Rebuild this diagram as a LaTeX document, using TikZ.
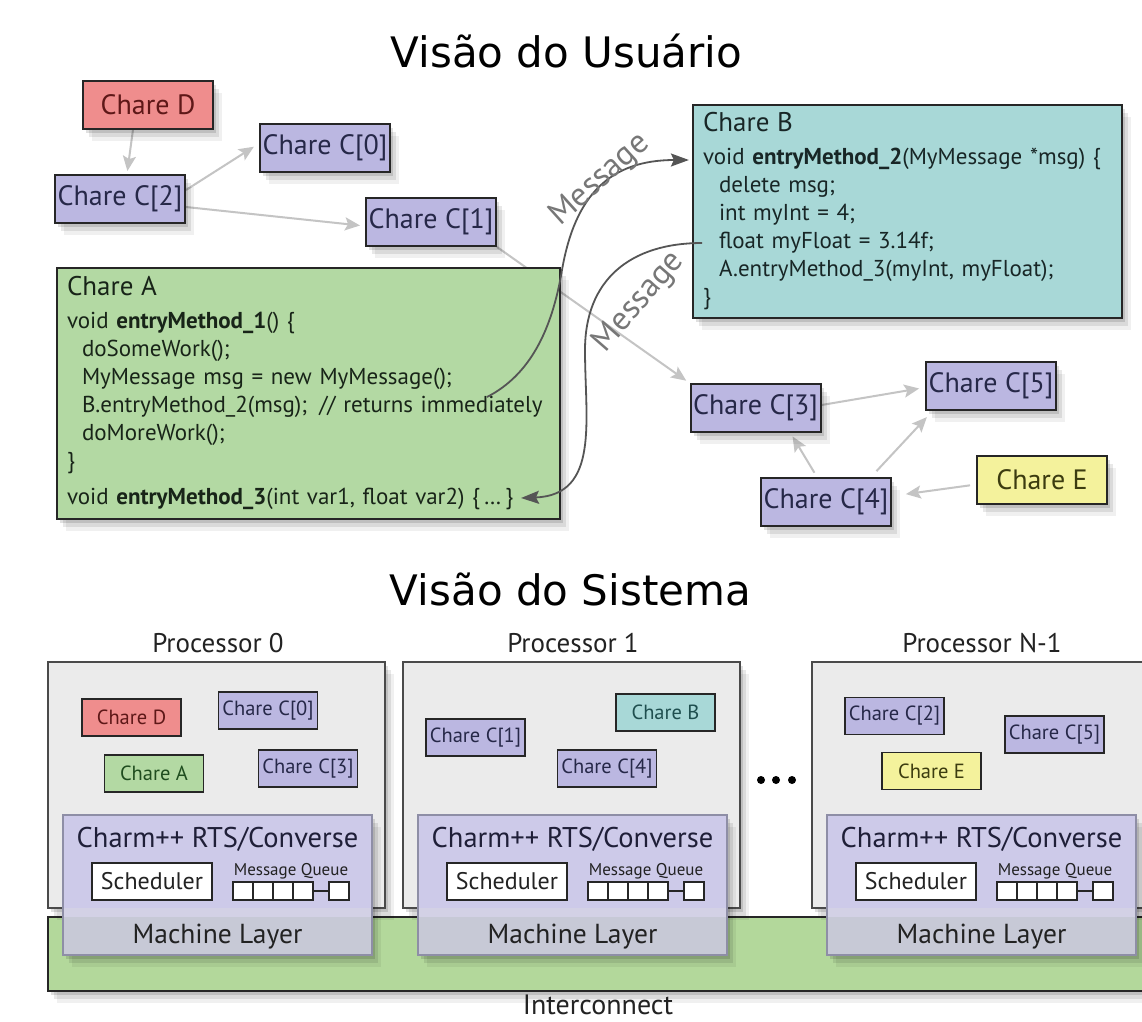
\documentclass[tikz,border=0pt]{standalone}
\usepackage{fontspec}
\setmainfont{PT Sans}
\newfontfamily\titlefont{DejaVu Sans}
\usetikzlibrary{arrows.meta,shadows}
\pgfdeclarelayer{back}
\pgfdeclarelayer{bg}
\pgfsetlayers{back,bg,main}
\definecolor{edge}{HTML}{262626}
\definecolor{redfill}{HTML}{EF8D8D}
\definecolor{redtext}{HTML}{5E1818}
\definecolor{purfill}{HTML}{BBB7E1}
\definecolor{purtext}{HTML}{262848}
\definecolor{greenfill}{HTML}{B3D9A3}
\definecolor{greentext}{HTML}{182418}
\definecolor{greentext2}{HTML}{1F4D1F}
\definecolor{tealfill}{HTML}{A8D8D7}
\definecolor{tealtext}{HTML}{182626}
\definecolor{tealtext2}{HTML}{1F4F4F}
\definecolor{yelfill}{HTML}{F4F29C}
\definecolor{yeltext}{HTML}{3C3C10}
\definecolor{procfill}{HTML}{EBEBEB}
\definecolor{procedge}{HTML}{4A4A4A}
\definecolor{rtsfill}{HTML}{CDCAE9}
\definecolor{rtsedge}{HTML}{8E8EA6}
\definecolor{mlband}{HTML}{D3D1E5}
\definecolor{mlfill}{HTML}{C7C9D6}
\definecolor{interfill}{HTML}{B3D89B}
\definecolor{conncol}{HTML}{C4C4C4}
\definecolor{msgcol}{HTML}{555555}
\definecolor{msgtext}{HTML}{777777}
\definecolor{darktext}{HTML}{222222}
\tikzset{
  softshadow/.style={
    drop shadow={shadow xshift=3pt, shadow yshift=-4pt, opacity=0.12, fill=black},
    drop shadow={shadow xshift=6pt, shadow yshift=-8pt, opacity=0.09, fill=black},
    drop shadow={shadow xshift=9pt, shadow yshift=-12pt, opacity=0.06, fill=black}},
  chbox/.style={draw=edge, line width=2pt, inner sep=0pt, minimum width=130pt, minimum height=48pt,
    font=\fontsize{28}{30}\selectfont, softshadow},
  codebox/.style={draw=edge, line width=2.2pt, inner xsep=10pt, inner ysep=0pt, align=left,
    font=\fontsize{23}{28}\selectfont, softshadow},
  smallch/.style={draw=edge, line width=1.6pt, inner sep=0pt, minimum width=99pt, minimum height=37pt,
    font=\fontsize{20.5}{22}\selectfont},
  procbox/.style={draw=procedge, line width=2pt, fill=procfill, minimum width=337pt, minimum height=246pt,
    inner sep=0pt, softshadow},
  rtsbox/.style={draw=rtsedge, line width=1.5pt, fill=rtsfill, minimum width=309pt, minimum height=140pt,
    inner sep=0pt, softshadow},
  interbox/.style={draw=edge, line width=2pt, fill=interfill, minimum width=1112pt, minimum height=74pt,
    inner sep=0pt, softshadow},
  schedbox/.style={draw=edge, line width=1.6pt, fill=white, minimum width=120pt, minimum height=37pt,
    inner sep=0pt, font=\fontsize{24}{26}\selectfont, text=darktext},
  qcell/.style={draw=edge, line width=1.4pt, fill=white, minimum width=20pt, minimum height=18pt, inner sep=0pt},
  titletext/.style={font=\titlefont\fontsize{42}{46}\selectfont, text=black, inner sep=0pt},
  lbl/.style={font=\fontsize{27}{30}\selectfont, text=darktext, inner sep=0pt},
  rtslbl/.style={font=\fontsize{28.5}{30}\selectfont, text=darktext!90!blue, inner sep=0pt},
  mqlbl/.style={font=\fontsize{17}{18}\selectfont, text=darktext, inner sep=0pt},
  msglabel/.style={font=\fontsize{33}{35}\selectfont, text=msgtext, inner sep=0pt},
  dotn/.style={circle, fill=black, minimum size=8pt, inner sep=0pt},
  conn/.style={draw=conncol, line width=2pt, -{Stealth[length=15pt,width=13pt,inset=3pt]}},
  msgarrow/.style={draw=msgcol, line width=1.8pt, -{Stealth[length=18pt,width=13pt,inset=3pt]}},
}
\begin{document}
\begin{tikzpicture}[x=1pt,y=-1pt]
\useasboundingbox (0,0) rectangle (1142,1021);
\begin{pgfonlayer}{back}
\fill[white] (0,0) rectangle (1142,1021);
\end{pgfonlayer}

% ---------- titles ----------
\node[titletext, anchor=base] (t1) at (566.5,67) {Visão do Usuário};
\node[titletext, anchor=base] (t2) at (570.5,605) {Visão do Sistema};

% ---------- user view chares ----------
\node[chbox, fill=redfill, text=redtext] (cD) at (148,104.5) {Chare D};
\node[chbox, fill=purfill, text=purtext] (c0) at (325,147.5) {Chare C[0]};
\node[chbox, fill=purfill, text=purtext] (c2) at (120,199) {Chare C[2]};
\node[chbox, fill=purfill, text=purtext] (c1) at (431,222) {Chare C[1]};
\node[chbox, fill=purfill, text=purtext] (c3) at (755.5,408) {Chare C[3]};
\node[chbox, fill=purfill, text=purtext] (c5) at (991,385.5) {Chare C[5]};
\node[chbox, fill=purfill, text=purtext] (c4) at (826,502) {Chare C[4]};
\node[chbox, fill=yelfill, text=yeltext] (cE) at (1042,479.5) {Chare E};

\node[codebox, fill=greenfill, text=greentext, minimum width=503pt, minimum height=251pt, text width=483pt] (A) at (308.5,393.5)
{{\fontsize{27}{28}\selectfont Chare A}\\[5pt]
void \textbf{entryMethod\_1}() \{\\
\hspace*{15pt}doSomeWork();\\
\hspace*{15pt}MyMessage msg = new MyMessage();\\
\hspace*{15pt}B.entryMethod\_2(msg);\hspace{12pt}// returns immediately\\
\hspace*{15pt}doMoreWork();\\
\}\\[8pt]
void \textbf{entryMethod\_3}(int var1, float var2) \{\,\ldots\,\}};

\node[codebox, fill=tealfill, text=tealtext, minimum width=429pt, minimum height=213pt, text width=409pt] (B) at (907.5,211.5)
{{\fontsize{27}{28}\selectfont Chare B}\\[5pt]
void \textbf{entryMethod\_2}(MyMessage *msg) \{\\
\hspace*{16pt}delete msg;\\
\hspace*{16pt}int myInt = 4;\\
\hspace*{16pt}float myFloat = 3.14f;\\
\hspace*{16pt}A.entryMethod\_3(myInt, myFloat);\\
\}};

% ---------- grey connectors (behind boxes) ----------
\begin{pgfonlayer}{bg}
\draw[conn, shorten >=3pt] ([xshift=-15pt]cD.south) -- ([xshift=7pt]c2.north);
\draw[conn, shorten >=6pt] ([yshift=9pt]c2.east) -- ([yshift=4pt]c0.west);
\draw[conn, shorten >=5pt] ([yshift=-8pt]c2.east) -- ([yshift=-4pt]c1.west);
\draw[conn, shorten >=4pt] (c1.south east) -- (c3.north west);
\draw[conn, shorten >=6pt] ([yshift=3pt]c3.east) -- ([yshift=-2pt]c5.west);
\draw[conn, shorten <=5pt, shorten >=4pt] ([xshift=-9pt]c4.north) -- ([xshift=35pt]c3.south);
\draw[conn, shorten <=8pt, shorten >=9pt] ([xshift=45pt]c4.north) -- ([xshift=8pt]c5.south west);
\draw[conn, shorten <=6pt, shorten >=14pt] ([yshift=-5pt]cE.west) -- ([yshift=6pt]c4.east);
\end{pgfonlayer}

% ---------- message curves ----------
\coordinate (m1s) at (487,397);
\coordinate (m1m) at (562,270);
\coordinate (m2s) at (702,243);
\coordinate (m2m) at (585,350);
\coordinate (m2e) at (521,498);
\draw[msgarrow] (m1s) .. controls (530,375) and (552,330) .. (m1m)
  .. controls (575,195) and (610,160) .. ([shift={(-3pt,51.5pt)}]B.west);
\draw[msgarrow] (m2s) .. controls (630,243) and (585,280) .. (m2m)
  .. controls (585,420) and (600,495) .. (m2e);
\node[msglabel, rotate=42] (ml1) at (600,180) {Message};
\node[msglabel, rotate=49] (ml2) at (639,302) {Message};

% ---------- system view ----------
\node[interbox] (ic) at (604,954) {};
\node[lbl, anchor=base, font=\fontsize{28}{30}\selectfont] (icl) at (598,1014) {Interconnect};

\foreach \px/\nm/\lab in {48/pa/Processor 0, 403/pb/Processor 1, 812/pc/Processor N-1} {
  \node[procbox] (\nm) at (\px+168.5,785) {};
  \node[lbl, anchor=base] (\nm-lab) at (\px+170,652) {\lab};
  \node[rtsbox] (\nm-rts) at (\px+169.5,885) {};
  \fill[mlband] (\px+15.8,908) rectangle (\px+323.2,917);
  \fill[mlfill] (\px+15.8,917) rectangle (\px+323.2,954.2);
  \node[rtslbl, anchor=base] (\nm-rtsl) at (\px+169.5,847) {Charm++ RTS/Converse};
  \node[schedbox] (\nm-sch) at (\px+104,881.5) {Scheduler};
  \node[mqlbl] (\nm-mq) at (\px+243,871) {Message Queue};
  \foreach \k in {1,...,4} {
    \node[qcell] (\nm-q\k) at (\px+175+20*\k,891) {};
  }
  \node[qcell] (\nm-q5) at (\px+291,891) {};
  \draw[edge, line width=1.4pt] (\nm-q4.east) -- (\nm-q5.west);
  \node[lbl, anchor=base, font=\fontsize{27.5}{29}\selectfont] (\nm-ml) at (\px+169.5,943) {Machine Layer};
}

\node[dotn] (dot1) at (761,780) {};
\node[dotn] (dot2) at (776,780) {};
\node[dotn] (dot3) at (792,780) {};

% processor 0
\node[smallch, fill=redfill, text=redtext] (sD) at (131.5,717.5) {Chare D};
\node[smallch, fill=purfill, text=purtext] (s0) at (268,710.5) {Chare C[0]};
\node[smallch, fill=greenfill, text=greentext2] (sA) at (154,773.5) {Chare A};
\node[smallch, fill=purfill, text=purtext] (s3) at (308,768.5) {Chare C[3]};
% processor 1
\node[smallch, fill=purfill, text=purtext] (s1) at (475.5,737.5) {Chare C[1]};
\node[smallch, fill=tealfill, text=tealtext2] (sB) at (665.5,712.5) {Chare B};
\node[smallch, fill=purfill, text=purtext] (s4) at (607,768.5) {Chare C[4]};
% processor N-1
\node[smallch, fill=purfill, text=purtext] (s2) at (894.5,716) {Chare C[2]};
\node[smallch, fill=purfill, text=purtext] (s5) at (1054.5,734.5) {Chare C[5]};
\node[smallch, fill=yelfill, text=yeltext] (sE) at (931.5,771) {Chare E};
\end{tikzpicture}
\end{document}
